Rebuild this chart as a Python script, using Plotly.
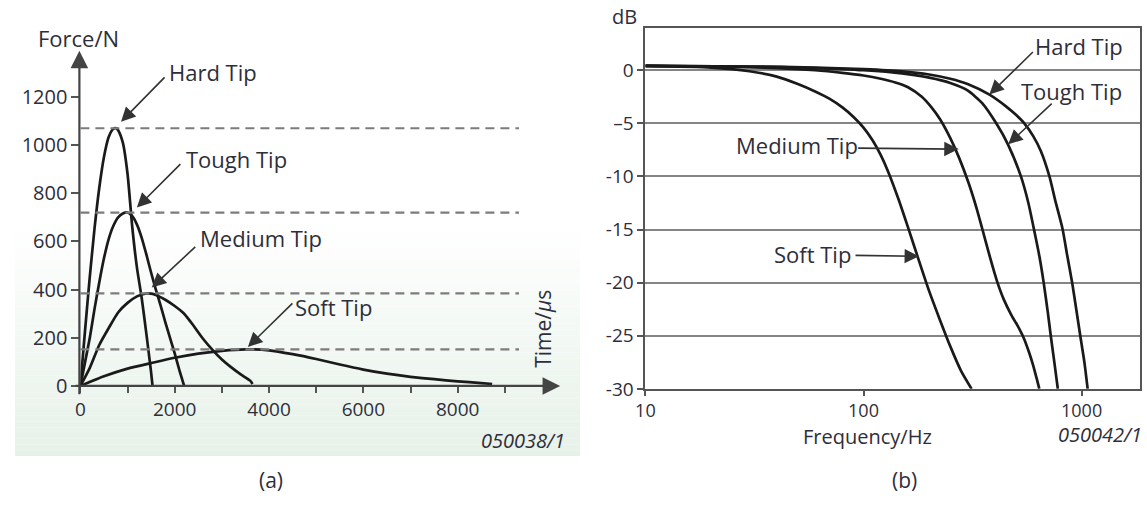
import plotly.graph_objects as go

W, H = 1147, 512

# ---------------- data: (a) force pulses ----------------
hard_t = [0, 100, 200, 300, 400, 500, 600, 700, 760, 800, 900, 1000, 1100, 1200, 1300, 1400, 1500, 1530]
hard_f = [0, 233, 454, 654, 822, 951, 1034, 1068, 1070, 1062, 1010, 880, 660, 490, 365, 215, 55, 0]

tough_t = [0, 100, 200, 300, 400, 500, 600, 700, 800, 900, 1000, 1100, 1200, 1300, 1400, 1500, 1600, 1700, 1800, 1900, 2000, 2100, 2200]
tough_f = [0, 100, 200, 320, 430, 530, 610, 665, 700, 716, 720, 705, 670, 615, 545, 470, 400, 335, 265, 200, 135, 65, 0]

medium_t = [0, 200, 400, 600, 800, 1000, 1200, 1400, 1500, 1600, 1800, 2000, 2200, 2400, 2600, 2800, 3000, 3200, 3400, 3600, 3650]
medium_f = [0, 75, 170, 240, 305, 345, 372, 384, 383, 378, 358, 332, 300, 250, 196, 150, 110, 77, 48, 22, 8]

soft_t = [0, 500, 1000, 1500, 2000, 2500, 3000, 3500, 4000, 4500, 5000, 5500, 6000, 6500, 7000, 7500, 8000, 8500, 8730]
soft_f = [0, 40, 72, 95, 117, 134, 146, 152, 148, 132, 112, 89, 68, 51, 38, 28, 19, 12, 8]

force_ticks = [0, 200, 400, 600, 800, 1000, 1200]
time_ticks = [0, 2000, 4000, 6000, 8000]
time_minor = [1000, 3000, 5000, 7000, 9000]

# ---------------- data: (b) frequency response ----------------
soft_hz = [10, 20, 30, 40, 50, 60, 70, 80, 90, 100, 110, 120, 130, 145, 160, 180, 200, 225, 250, 280, 313]
soft_db = [0.4, 0.25, -0.1, -0.6, -1.3, -2.0, -2.7, -3.5, -4.4, -5.4, -6.6, -8.0, -9.6, -12.2, -14.8, -18.0, -20.8, -23.6, -26.0, -28.3, -30.0]

medium_hz = [10, 20, 40, 60, 80, 100, 120, 140, 160, 185, 205, 224, 250, 275, 303, 330, 350, 380, 410, 440, 475, 510, 545, 575, 600, 620, 640]
medium_db = [0.4, 0.35, 0.2, 0.0, -0.25, -0.5, -0.8, -1.15, -1.6, -2.5, -3.5, -4.6, -6.4, -8.3, -10.6, -13.0, -14.9, -17.6, -19.9, -21.6, -23.0, -24.1, -25.3, -26.6, -27.8, -28.9, -30.0]

tough_hz = [10, 30, 60, 100, 150, 200, 250, 300, 350, 406, 460, 527, 570, 605, 640, 670, 700, 722, 750, 778]
tough_db = [0.4, 0.35, 0.2, 0.0, -0.3, -0.7, -1.2, -1.9, -3.1, -5.0, -7.0, -10.0, -12.5, -15.0, -17.5, -20.0, -22.8, -25.0, -27.5, -30.0]

hard_hz = [10, 30, 60, 100, 150, 200, 250, 300, 378, 450, 500, 546, 600, 650, 712, 760, 817, 860, 905, 945, 986, 1030, 1066]
hard_db = [0.4, 0.35, 0.25, 0.1, -0.1, -0.4, -0.8, -1.3, -2.3, -3.4, -4.2, -5.0, -6.2, -7.6, -10.0, -12.4, -14.9, -17.5, -20.0, -22.5, -25.0, -27.5, -30.0]

db_ticks = [0, -5, -10, -15, -20, -25, -30]
db_labels = ["0", "\u20135", "-10", "-15", "-20", "-25", "-30"]
hz_ticks = [10, 100, 1000]
hz_labels = ["10", "100", "1000"]

# ---------------- helpers ----------------
def px(x):
    return x / W

def py(y):
    return 1 - y / H

FONT = "Open Sans"
TXT = "#2e2e3a"
CURVE = "#1a1a1a"
DASH_END = 9300

fig = go.Figure()

# (a) curves
for t, f in [(hard_t, hard_f), (tough_t, tough_f), (medium_t, medium_f), (soft_t, soft_f)]:
    fig.add_trace(go.Scatter(x=t, y=f, mode="lines", line=dict(color=CURVE, width=2.7, shape="spline", smoothing=0.6),
                             xaxis="x", yaxis="y", showlegend=False, hoverinfo="skip"))
    peak = max(f)
    fig.add_trace(go.Scatter(x=[0, DASH_END], y=[peak, peak], mode="lines",
                             line=dict(color="#7c7c7c", width=2.2, dash="9px,6px"),
                             xaxis="x", yaxis="y", showlegend=False, hoverinfo="skip"))

# (b) curves
for hz, db in [(soft_hz, soft_db), (medium_hz, medium_db), (tough_hz, tough_db), (hard_hz, hard_db)]:
    fig.add_trace(go.Scatter(x=hz, y=db, mode="lines", line=dict(color=CURVE, width=2.7, shape="spline", smoothing=0.6),
                             xaxis="x2", yaxis="y2", showlegend=False, hoverinfo="skip"))

# gradient background for panel (a)
shapes = []
n = 40
top, bot = 232, 468
c0 = (255, 255, 255)
c1 = (230, 241, 232)
for i in range(n):
    y0 = top + (bot - top) * i / n
    y1 = top + (bot - top) * (i + 1) / n
    fr = (i + 0.5) / n
    col = tuple(round(c0[k] + (c1[k] - c0[k]) * fr) for k in range(3))
    shapes.append(dict(type="rect", xref="paper", yref="paper", x0=px(5), x1=px(575), y0=py(y1), y1=py(y0),
                       fillcolor="rgb(%d,%d,%d)" % col, line=dict(width=0), layer="below"))

annotations = []

def arrow(tail, head, color="#333", width=1.6, size=1.8):
    annotations.append(dict(x=px(head[0]), y=py(head[1]), xref="paper", yref="paper",
                            ax=tail[0] - head[0], ay=tail[1] - head[1], axref="pixel", ayref="pixel",
                            text="", showarrow=True, arrowhead=2, arrowsize=size, arrowwidth=width,
                            arrowcolor=color, standoff=0, startstandoff=0))

def label(text, x, y, anchor="left", size=22, italic=False, angle=0):
    if italic:
        text = "<i>" + text + "</i>"
    annotations.append(dict(x=px(x), y=py(y), xref="paper", yref="paper", text=text, showarrow=False,
                            xanchor=anchor, yanchor="middle", textangle=angle, borderpad=0,
                            font=dict(family=FONT, size=size, color=TXT)))

# axis arrows panel (a)
arrow((70, 397), (70, 52), color="#444", width=2.2, size=1.6)
arrow((69, 396), (555, 396), color="#444", width=2.2, size=1.6)

# pointer arrows (a)
arrow((157, 79), (112, 125))
arrow((173, 168), (128, 213))
arrow((188, 253), (143, 295))
arrow((286, 311), (240, 356))
# pointer arrows (b)
arrow((1033, 53), (988, 97))
arrow((1052, 106), (1007, 148))
arrow((855, 152), (957, 153))
arrow((852, 262), (917, 263))

label("Hard Tip", 159, 74)
label("Tough Tip", 177, 163)
label("Medium Tip", 191, 244)
label("Soft Tip", 287, 315)
label("Hard Tip", 1033, 47)
label("Tough Tip", 1019, 93)
label("Medium Tip", 856, 149, anchor="right")
label("Soft Tip", 849, 261, anchor="right")
label("Force/N", 69, 39, anchor="center")
label("dB", 620, 17, anchor="center", size=20)
label("Frequency/Hz", 865, 448, anchor="center", size=20)
label("Time/<i>\u00b5</i>s", 538, 337, anchor="center", size=21, angle=-90)
label("050038/1", 561, 452, anchor="right", size=20, italic=True)
label("050042/1", 1143, 446, anchor="right", size=20, italic=True)
label("(a)", 263, 492, anchor="center", size=21)
label("(b)", 902, 492, anchor="center", size=21)

tickfont = dict(family=FONT, size=20, color=TXT)
tickfont2 = dict(family=FONT, size=19, color=TXT)
tickfont3 = dict(family=FONT, size=18, color=TXT)

fig.update_layout(
    xaxis=dict(domain=[px(71), px(553)], range=[0, 10130], showgrid=False, zeroline=False, showline=False,
               tickvals=time_ticks, ticks="outside", ticklen=6, tickwidth=2, tickcolor="#555",
               minor=dict(tickvals=time_minor, ticks="outside", ticklen=6, tickwidth=2, tickcolor="#555"),
               tickfont=tickfont2, anchor="y", fixedrange=True),
    yaxis=dict(domain=[py(396), py(54.5)], range=[0, 1382], showgrid=False, zeroline=False, showline=False,
               tickvals=force_ticks, ticks="outside", ticklen=8, tickwidth=2, tickcolor="#555",
               tickfont=tickfont, anchor="x", fixedrange=True),
    xaxis2=dict(domain=[px(641), px(1140)], type="log", range=[1, 3.268], showgrid=False, zeroline=False,
                showline=True, mirror=True, linecolor="#555", linewidth=2,
                tickvals=hz_ticks, ticktext=hz_labels, ticks="outside", ticklen=5, tickwidth=1.5, tickcolor="#555",
                tickfont=tickfont3, anchor="y2", fixedrange=True),
    yaxis2=dict(domain=[py(399), py(29)], range=[-30, 3.95], showgrid=True, gridcolor="#858585", gridwidth=2.2,
                zeroline=False, showline=True, mirror=True, linecolor="#555", linewidth=2,
                tickvals=db_ticks, ticktext=db_labels, ticks="outside", ticklen=6, tickwidth=1.5, tickcolor="#555",
                tickfont=tickfont2, anchor="x2", fixedrange=True),
    width=W, height=H, margin=dict(l=0, r=0, t=0, b=0),
    paper_bgcolor="white", plot_bgcolor="rgba(0,0,0,0)",
    shapes=shapes, annotations=annotations, showlegend=False,
    font=dict(family=FONT, color=TXT),
)

fig.write_html("out.html", config=dict(displayModeBar=False))
